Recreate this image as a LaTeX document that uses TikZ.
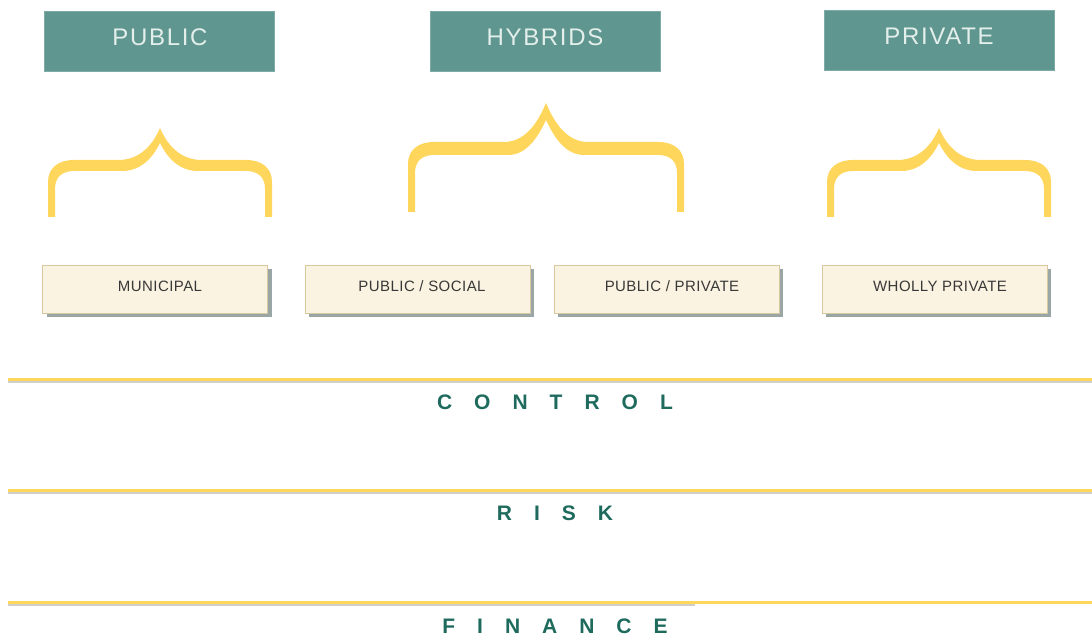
\documentclass[tikz,border=0pt]{standalone}
\usepackage{fontspec}
\usetikzlibrary{shadows}
\setmainfont{Liberation Sans}
\definecolor{teal}{HTML}{5F9690}
\definecolor{tealtxt}{HTML}{E4EFEB}
\definecolor{cream}{HTML}{FBF3E1}
\definecolor{creamedge}{HTML}{D8C8A0}
\definecolor{shadowgrey}{HTML}{9AA5A5}
\definecolor{gold}{HTML}{FFD65C}
\definecolor{darkteal}{HTML}{1E6B5E}
\definecolor{linegrey}{HTML}{CFCFC8}
\newcommand{\mybrace}[7]{%
  \fill[gold] ({#1-#2},#3) -- ({#1-#2},{#4+22}) .. controls ({#1-#2},{#4+8}) and ({#1-#2+10},#4) .. ({#1-#2+26},#4)
   -- ({#1-42},#4) .. controls ({#1-18},#4) and ({#1-6},{#6+14}) .. (#1,#6)
   .. controls ({#1+6},{#6+14}) and ({#1+18},#4) .. ({#1+42},#4)
   -- ({#1+#2-26},#4) .. controls ({#1+#2-10},#4) and ({#1+#2},{#4+8}) .. ({#1+#2},{#4+22})
   -- ({#1+#2},#3) -- ({#1+#2-7},#3) -- ({#1+#2-7},{#5+18})
   .. controls ({#1+#2-7},{#5+7}) and ({#1+#2-13},#5) .. ({#1+#2-26},#5)
   -- ({#1+38},#5) .. controls ({#1+16},#5) and ({#1+5},{#7+10}) .. (#1,#7)
   .. controls ({#1-5},{#7+10}) and ({#1-16},#5) .. ({#1-38},#5)
   -- ({#1-#2+26},#5) .. controls ({#1-#2+13},#5) and ({#1-#2+7},{#5+7}) .. ({#1-#2+7},{#5+18})
   -- ({#1-#2+7},#3) -- cycle;}
\begin{document}
\begin{tikzpicture}[x=1pt,y=-1pt,
  headbox/.style={fill=teal, draw=teal!80!white, inner sep=0pt, minimum width=230pt, minimum height=60pt},
  headtext/.style={text=tealtxt, inner sep=0pt, font=\fontsize{24}{24}\selectfont\addfontfeature{LetterSpace=7}},
  itembox/.style={fill=cream, draw=creamedge, inner sep=0pt, minimum width=225pt, minimum height=48pt,
    drop shadow={shadow xshift=4pt, shadow yshift=-4pt, fill=shadowgrey, opacity=1}},
  itemtext/.style={inner sep=0pt, font=\fontsize{15}{15}\selectfont\addfontfeature{LetterSpace=3}, text=black!78},
  axislabel/.style={text=darkteal, font=\fontsize{21}{21}\selectfont\bfseries, inner sep=0pt},
  goldline/.style={draw=gold, line width=3pt},
  greyline/.style={draw=linegrey, line width=5pt}]
\useasboundingbox (0,0) rectangle (1092,636);
% head boxes
\node[headbox] (public) at (159,41) {};
\node[headbox] (hybrids) at (545,41) {};
\node[headbox] (private) at (939,40) {};
\node[headtext] (publict) at (160,37) {PUBLIC};
\node[headtext] (hybridst) at (545,37) {HYBRIDS};
\node[headtext] (privatet) at (939,36) {PRIVATE};
% braces
\mybrace{160}{112}{217}{160}{171}{128}{143}
\mybrace{546}{138}{212}{142}{155}{103}{120}
\mybrace{939}{112}{217}{160}{171}{128}{143}
% item boxes
\node[itembox] (municipal) at (155,289) {};
\node[itembox] (pubsocial) at (417.5,289) {};
\node[itembox] (pubprivate) at (666.5,289) {};
\node[itembox] (wholly) at (934.5,289) {};
\node[itemtext] (municipalt) at (160,286) {MUNICIPAL};
\node[itemtext] (pubsocialt) at (422,286) {PUBLIC / SOCIAL};
\node[itemtext] (pubprivatet) at (672,286) {PUBLIC / PRIVATE};
\node[itemtext] (whollyt) at (940,286) {WHOLLY PRIVATE};
% axis lines
\coordinate (l1a) at (8,380); \coordinate (l1b) at (1092,380);
\coordinate (l2a) at (8,491); \coordinate (l2b) at (1092,491);
\coordinate (l3a) at (8,603); \coordinate (l3m) at (695,603); \coordinate (l3b) at (1092,603);
\draw[greyline] (l1a) -- (l1b);
\draw[greyline] (l2a) -- (l2b);
\draw[greyline] (l3a) -- (l3m);
\draw[goldline] ([yshift=0.5pt]l1a) -- ([yshift=0.5pt]l1b);
\draw[goldline] ([yshift=0.5pt]l2a) -- ([yshift=0.5pt]l2b);
\draw[goldline] ([yshift=0.5pt]l3a) -- ([yshift=0.5pt]l3b);
% labels
\node[axislabel] (control) at (555,402) {C\hspace{22pt}O\hspace{22pt}N\hspace{22pt}T\hspace{22pt}R\hspace{22pt}O\hspace{22pt}L};
\node[axislabel] (risk) at (555,513) {R\hspace{22pt}I\hspace{22pt}S\hspace{22pt}K};
\node[axislabel] (finance) at (555,626) {F\hspace{22pt}I\hspace{22pt}N\hspace{22pt}A\hspace{22pt}N\hspace{22pt}C\hspace{22pt}E};
\end{tikzpicture}
\end{document}
